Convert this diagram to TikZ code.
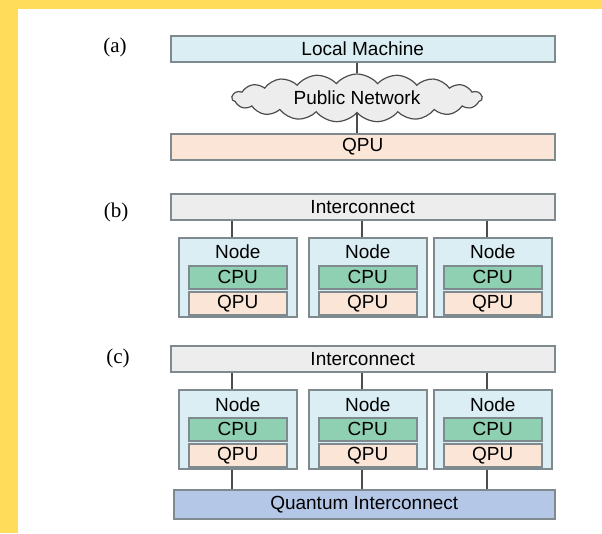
\documentclass[tikz,border=0pt]{standalone}
\usepackage{fontspec}
\setmainfont{Liberation Sans}
\newfontfamily\labfont{Liberation Serif}
\usetikzlibrary{shapes.symbols}
\definecolor{bgyellow}{HTML}{FFDC5A}
\definecolor{lmblue}{HTML}{DBEEF4}
\definecolor{qpufill}{HTML}{FBE5D6}
\definecolor{grayfill}{HTML}{EDEDED}
\definecolor{cpufill}{HTML}{8FD0B2}
\definecolor{qifill}{HTML}{B4C7E7}
\definecolor{bordergray}{HTML}{7F8A8F}
\definecolor{linegray}{HTML}{4D4D4D}
\tikzset{
  box/.style={draw=bordergray, line width=1.5pt, rectangle, inner sep=0pt, anchor=north west,
    font=\fontsize{19}{22}\selectfont},
  wide/.style={box, minimum width=384, minimum height=26},
  nodebox/.style={box, fill=lmblue, minimum width=118, minimum height=79},
  cpubox/.style={box, fill=cpufill, minimum width=98, minimum height=23},
  qpubox/.style={box, fill=qpufill, minimum width=98, minimum height=23},
  nodetxt/.style={font=\fontsize{19}{22}\selectfont, inner sep=0pt},
  lab/.style={font=\labfont\fontsize{21}{24}\selectfont, inner sep=0pt},
  conn/.style={draw=linegray, line width=1.6pt},
}
\begin{document}
\begin{tikzpicture}[x=1pt,y=-1pt]
\useasboundingbox (0,0) rectangle (602,533);
\fill[bgyellow] (0,0) rectangle (602,533);
\fill[white] (18,9) rectangle (602,533);

% (a)
\node[lab] (la) at (115,47) {(a)};
\node[wide, fill=lmblue] (lm) at (170,35) {Local Machine};
\node[cloud, cloud puffs=19, cloud puff arc=100, aspect=5.5, draw=linegray, line width=1.2pt, fill=grayfill,
  minimum width=250, minimum height=48, inner sep=0pt, font=\fontsize{19}{22}\selectfont] (net) at (357,98) {Public Network};
\node[wide, fill=qpufill] (qa) at (170,133) {QPU};
\draw[conn] (lm.south -| net.north) -- (net.north);
\draw[conn] (net.south) -- (net.south |- qa.north);

% (b)
\node[lab] (lb) at (116,212) {(b)};
\node[wide, fill=grayfill] (ib) at (170,193) {Interconnect};
\foreach \i/\x in {1/178,2/308,3/433}{
  \node[nodebox] (bn\i) at (\x,237) {};
  \node[nodetxt] (bt\i) at ([yshift=-15pt]bn\i.north) {Node};
  \node[cpubox] (bc\i) at (\x+10,265) {CPU};
  \node[qpubox] (bq\i) at (\x+10,291) {QPU};
  \draw[conn] ([xshift=-6pt]bn\i.north) -- ([xshift=-6pt]bn\i.north |- ib.south);
}

% (c)
\node[lab] (lc) at (118,358) {(c)};
\node[wide, fill=grayfill] (ic) at (170,345) {Interconnect};
\foreach \i/\x in {1/178,2/308,3/433}{
  \node[nodebox] (cn\i) at (\x,389) {};
  \node[nodetxt] (ct\i) at ([yshift=-16pt]cn\i.north) {Node};
  \node[cpubox] (cc\i) at (\x+10,417) {CPU};
  \node[qpubox] (cq\i) at (\x+10,443) {QPU};
  \draw[conn] ([xshift=-6pt]cn\i.north) -- ([xshift=-6pt]cn\i.north |- ic.south);
}
\node[box, fill=qifill, minimum width=381, minimum height=29] (qi) at (173,489) {Quantum Interconnect};
\foreach \i in {1,2,3}{
  \draw[conn] ([xshift=-6pt]cn\i.south) -- ([xshift=-6pt]cn\i.south |- qi.north);
}
\end{tikzpicture}
\end{document}
